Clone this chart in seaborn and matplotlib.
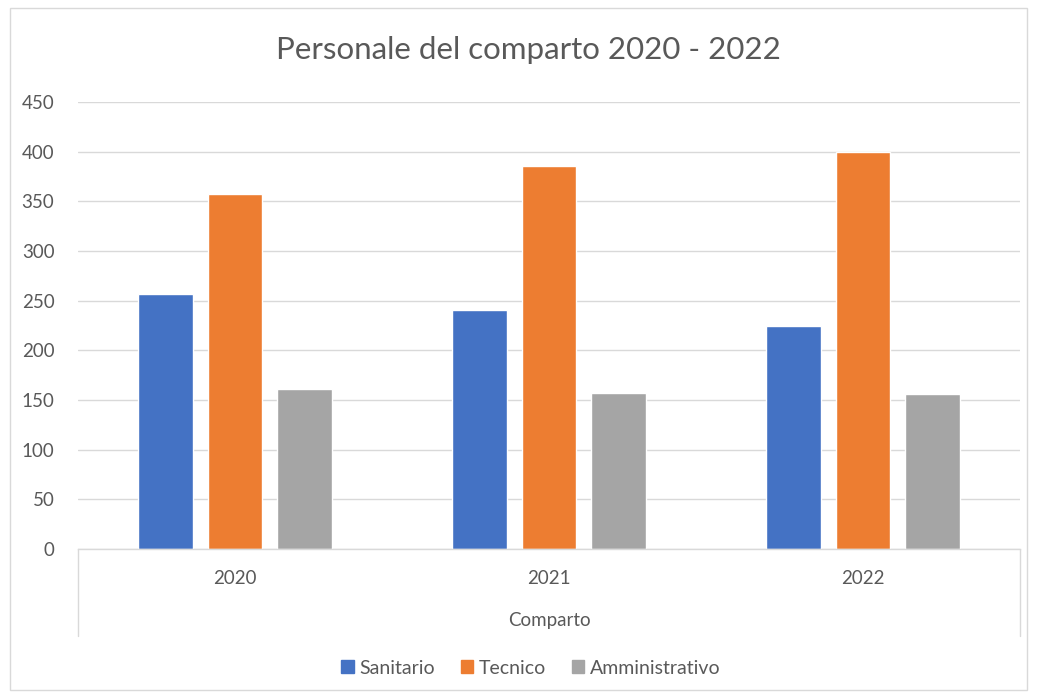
import matplotlib
matplotlib.use("Agg")
import matplotlib.pyplot as plt
import seaborn as sns
import pandas as pd
from matplotlib.patches import Rectangle
from matplotlib.lines import Line2D

years = ["2020", "2021", "2022"]
series = ["Sanitario", "Tecnico", "Amministrativo"]
sanitario = [257, 241, 225]
tecnico = [357, 386, 400]
amministrativo = [161, 157, 156]
colors = ["#4472C4", "#ED7D31", "#A5A5A5"]
yticks = [0, 50, 100, 150, 200, 250, 300, 350, 400, 450]

df = pd.DataFrame({
    "Anno": years * 3,
    "Serie": [s for s in series for _ in years],
    "Valore": sanitario + tecnico + amministrativo,
})

sns.set_theme(style="white")
plt.rcParams["font.family"] = ["Lato", "DejaVu Sans"]

fig = plt.figure(figsize=(10.37, 7.0), dpi=100)
ax = fig.add_axes([78/1037, 1 - 549/700, (1020 - 78)/1037, (549 - 102)/700])

sns.barplot(data=df, x="Anno", y="Valore", hue="Serie", order=years, hue_order=series,
            palette=colors, width=0.664, gap=0.22, ax=ax, legend=False, saturation=1)

ax.set_xlim(-0.5, 2.5)
ax.set_ylim(0, 450)
ax.set_yticks(yticks)
ax.set_yticklabels([str(v) for v in yticks], fontsize=13.5, color="#595959")
ax.tick_params(axis="y", length=0, pad=17)
ax.tick_params(axis="x", length=0, pad=15, labelsize=13.5, labelcolor="#595959")
ax.set_xlabel("Comparto", fontsize=13.5, color="#595959", labelpad=18)
ax.set_ylabel("")
ax.yaxis.grid(True, color="#D9D9D9", linewidth=1)
ax.set_axisbelow(True)
for s in ["top", "right", "left"]:
    ax.spines[s].set_visible(False)
ax.spines["bottom"].set_color("#D9D9D9")
ax.spines["bottom"].set_linewidth(1)

# multi-level category axis side lines
depth = (636 - 549) / (549 - 102)
for xv in (0.0, 1.0):
    ax.add_line(Line2D([xv, xv], [0, -depth], transform=ax.transAxes,
                       color="#D9D9D9", linewidth=1, clip_on=False))

fig.text(528/1037, 1 - 50/700, "Personale del comparto 2020 - 2022", fontsize=22.5,
         color="#595959", ha="center", va="center")

handles = [Rectangle((0, 0), 1, 1, color=c) for c in colors]
fig.legend(handles, series, loc="center", bbox_to_anchor=(531/1037, 1 - 668/700), ncol=3,
           frameon=False, fontsize=14, handlelength=0.65, handleheight=0.65,
           handletextpad=0.3, columnspacing=1.3, labelcolor="#595959")

fig.patches.append(Rectangle((10/1037, 1 - 690/700), 1017/1037, 682/700, transform=fig.transFigure,
                             fill=False, edgecolor="#D9D9D9", linewidth=1))

fig.savefig("out.png", dpi=100, facecolor="white")
